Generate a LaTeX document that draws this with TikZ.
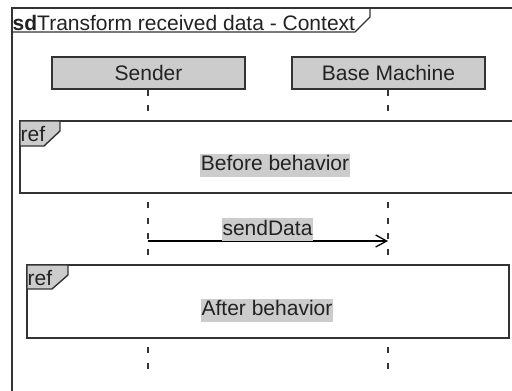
\documentclass[tikz,border=0pt]{standalone}
\usepackage{fontspec}
\setmainfont{Liberation Sans}
\usetikzlibrary{arrows.meta}
\definecolor{boxgray}{HTML}{CCCCCC}
\definecolor{linegray}{HTML}{333333}
\definecolor{txt}{HTML}{222222}
\begin{document}
\begin{tikzpicture}[x=1pt,y=-1pt,
  font=\fontsize{21}{24}\selectfont,
  every node/.style={text=txt},
  frameline/.style={draw=linegray,line width=1.4pt},
  lifebox/.style={draw=linegray,line width=1.4pt,fill=boxgray,minimum width=193pt,minimum height=32pt,inner sep=0pt},
  lifeline/.style={draw=linegray,line width=1.4pt,dash pattern=on 6pt off 9.5pt},
  hilite/.style={fill=boxgray,inner xsep=1pt,inner ysep=1.5pt,text height=15.5pt,text depth=4.5pt},
  msg/.style={draw=black,line width=1.3pt,-{Straight Barb[length=11pt,width=12pt,line width=1.3pt]}}
]
\useasboundingbox (0,0) rectangle (512,391);
\clip (0,0) rectangle (512,391);
% outer frame
\draw[frameline] (12,395) -- (12,8) -- (520,8);
\draw[frameline] (12,32) -- (355,32) -- (370,17) -- (370,8);
\node[anchor=base west,inner sep=0pt] (title) at (12.5,30) {\textbf{sd}Transform received data - Context};
% lifeline heads
\node[lifebox] (sender) at (148.5,73) {Sender};
\node[lifebox] (base) at (388.5,73) {Base Machine};
% lifelines
\coordinate (s1) at (148,121);
\coordinate (b1) at (388,121);
\draw[lifeline] (sender.south -| s1) -- (s1);
\draw[lifeline] (base.south -| b1) -- (b1);
% ref 1
\draw[frameline] (20,121) rectangle (520,193);
\draw[frameline,fill=boxgray] (20,146) -- (44,146) -- (60,131) -- (60,121) -- (20,121) -- cycle;
\node[anchor=base west,inner sep=0pt] (ref1) at (20.5,141) {ref};
\node[hilite] (before) at (275,165) {Before behavior};
% middle lifelines
\coordinate (s2a) at (148,202);
\coordinate (s2b) at (148,265);
\coordinate (b2a) at (388,202);
\coordinate (b2b) at (388,265);
\draw[lifeline] (s2a) -- (s2b);
\draw[lifeline] (b2a) -- (b2b);
% message
\coordinate (m1) at (148,241);
\coordinate (m2) at (388,241);
\draw[msg] (m1) -- (m2);
\node[hilite] (send) at (267.5,229.5) {sendData};
% ref 2
\draw[frameline] (27,265) rectangle (509,338);
\draw[frameline,fill=boxgray] (27,289) -- (52,289) -- (68,275) -- (68,265) -- (27,265) -- cycle;
\node[anchor=base west,inner sep=0pt] (ref2) at (27.5,285) {ref};
\node[hilite] (after) at (267,310) {After behavior};
% bottom lifelines
\coordinate (s3a) at (148,347);
\coordinate (s3b) at (148,369);
\coordinate (b3a) at (388,347);
\coordinate (b3b) at (388,369);
\draw[lifeline] (s3a) -- (s3b);
\draw[lifeline] (b3a) -- (b3b);
\end{tikzpicture}
\end{document}
